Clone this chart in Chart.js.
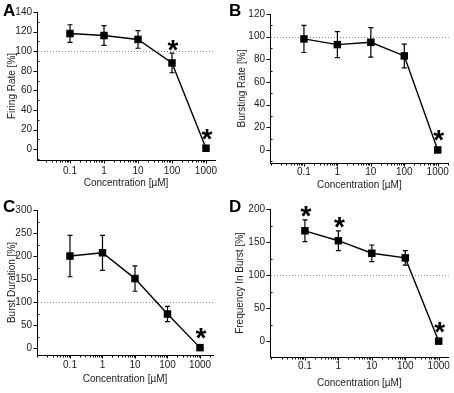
<!DOCTYPE html>
<html><head><meta charset="utf-8">
<script src="https://cdn.jsdelivr.net/npm/chart.js@4/dist/chart.umd.min.js"></script>
<style>
html,body{margin:0;padding:0;background:#fff}
body{width:454px;height:393px;overflow:hidden;position:relative;font-family:"Liberation Sans",Arial,sans-serif}
canvas{position:absolute}
.lbl{position:absolute;font:bold 17px "Liberation Sans",Arial,sans-serif;color:#000;line-height:17px}
</style></head><body>
<canvas id="cA" width="227" height="196" style="left:0;top:0"></canvas>
<canvas id="cB" width="227" height="196" style="left:227px;top:0"></canvas>
<canvas id="cC" width="227" height="197" style="left:0;top:196px"></canvas>
<canvas id="cD" width="227" height="197" style="left:227px;top:196px"></canvas>
<div class="lbl" style="left:3px;top:2px">A</div>
<div class="lbl" style="left:229px;top:2px">B</div>
<div class="lbl" style="left:3px;top:198px">C</div>
<div class="lbl" style="left:229px;top:198px">D</div>
<script>
// ---- data ----
const concentrations = [0.1, 1, 10, 100, 1000];
const xTickValues = [0.1, 1, 10, 100, 1000];
const xTickLabels = ['0.1', '1', '10', '100', '1000'];
const xTitle = 'Concentration [\u00B5M]';

const firingRate = [118, 116, 112, 88, 1];
const firingRateErr = [9, 10, 9, 10, 0];
const firingRateSig = [false, false, false, true, true];
const firingRateTicks = [0, 20, 40, 60, 80, 100, 120, 140];

const burstingRate = [98, 93, 95, 83, 0];
const burstingRateErr = [12, 11.5, 13, 10.5, 0];
const burstingRateSig = [false, false, false, false, true];
const burstingRateTicks = [0, 20, 40, 60, 80, 100, 120];

const burstDuration = [200, 207, 151, 74, 1];
const burstDurationErr = [45, 38, 27.5, 16.5, 0];
const burstDurationSig = [false, false, false, false, true];
const burstDurationTicks = [0, 50, 100, 150, 200, 250, 300];

const freqInBurst = [167, 152, 133, 126, 0];
const freqInBurstErr = [16.5, 15, 12.5, 11, 0];
const freqInBurstSig = [true, true, false, false, true];
const freqInBurstTicks = [0, 50, 100, 150, 200];

const controlLevel = 100;

// ---- drawing helpers ----
const FONT = '"Liberation Sans", Arial, sans-serif';

const decorPlugin = {
  id: 'decor',
  beforeDatasetsDraw(chart, args, o) {
    const {ctx, chartArea: a, scales: {x, y}} = chart;
    ctx.save();
    // dotted control line
    const yc = y.getPixelForValue(controlLevel);
    ctx.strokeStyle = '#8a8a8a';
    ctx.lineWidth = 1;
    ctx.setLineDash([1, 2]);
    ctx.beginPath(); ctx.moveTo(a.left + 1, Math.round(yc) + 0.5); ctx.lineTo(a.right, Math.round(yc) + 0.5); ctx.stroke();
    ctx.setLineDash([]);
    // error bars
    ctx.strokeStyle = '#000';
    ctx.lineWidth = 1.2;
    o.values.forEach((v, i) => {
      const e = o.errors[i];
      if (!e) return;
      const px = x.getPixelForValue(concentrations[i]);
      const yt = y.getPixelForValue(v + e), yb = y.getPixelForValue(v - e);
      ctx.beginPath();
      ctx.moveTo(px, yt); ctx.lineTo(px, yb);
      ctx.moveTo(px - 2.5, yt); ctx.lineTo(px + 2.5, yt);
      ctx.moveTo(px - 2.5, yb); ctx.lineTo(px + 2.5, yb);
      ctx.stroke();
    });
    ctx.restore();
  },
  afterDraw(chart, args, o) {
    const {ctx, chartArea: a, scales: {x, y}} = chart;
    ctx.save();
    ctx.strokeStyle = '#000';
    ctx.lineWidth = 1;
    // y ticks
    const yl = Math.round(a.left) + 0.5;
    o.yTicks.forEach(t => {
      const py = Math.round(y.getPixelForValue(t)) + 0.5;
      ctx.beginPath(); ctx.moveTo(yl - 4, py); ctx.lineTo(yl, py); ctx.stroke();
    });
    for (let t = o.yTicks[0] - o.yMinor; t <= y.max + 1e-9; t += o.yMinor) {
      if (t < y.min || o.yTicks.includes(t)) continue;
      const py = Math.round(y.getPixelForValue(t)) + 0.5;
      ctx.beginPath(); ctx.moveTo(yl, py); ctx.lineTo(yl + 2, py); ctx.stroke();
    }
    // x ticks (log)
    const xb = Math.round(a.bottom) + 0.5;
    for (let e = -3; e <= 4; e++) {
      for (let m = 1; m <= 9; m++) {
        const v = m * Math.pow(10, e);
        if (v < x.min || v > x.max) continue;
        const major = xTickValues.some(t => Math.abs(t - v) < 1e-9 * Math.max(1, v));
        const px = Math.round(x.getPixelForValue(v)) + 0.5;
        ctx.beginPath(); ctx.moveTo(px, xb); ctx.lineTo(px, xb + (major ? 3 : 2)); ctx.stroke();
      }
    }
    // asterisks
    ctx.fillStyle = '#000';
    ctx.font = 'bold 28px ' + FONT;
    ctx.textAlign = 'center';
    ctx.textBaseline = 'alphabetic';
    const m = ctx.measureText('*');
    const shift = (m.actualBoundingBoxAscent - m.actualBoundingBoxDescent) / 2;
    o.sig.forEach((s, i) => {
      if (!s) return;
      const v = o.values[i], e = o.errors[i];
      const px = x.getPixelForValue(concentrations[i]);
      const top = Math.min(y.getPixelForValue(v + e), y.getPixelForValue(v) - 6);
      const cy = top - 8;
      ctx.fillText('*', px + 1, cy + shift);
    });
    ctx.restore();
  }
};

function makePanel(id, values, errors, sig, yTicks, yMinor, yLabel, L) {
  const canvas = document.getElementById(id);
  const W = canvas.width, H = canvas.height;
  return new Chart(canvas, {
    type: 'line',
    data: {
      datasets: [{
        data: concentrations.map((c, i) => ({x: c, y: values[i]})),
        borderColor: '#000',
        backgroundColor: '#000',
        borderWidth: 1.4,
        pointStyle: 'rect',
        pointRadius: 5.3,
        pointBorderWidth: 0,
        pointBackgroundColor: '#000',
        tension: 0,
        clip: false
      }]
    },
    options: {
      responsive: false,
      animation: false,
      events: [],
      layout: {padding: {top: L.top, right: W - L.right, left: 0, bottom: 0}},
      plugins: {
        legend: {display: false},
        tooltip: {enabled: false},
        decor: {values, errors, sig, yTicks, yMinor}
      },
      scales: {
        x: {
          type: 'logarithmic',
          min: L.xmin, max: L.xmax,
          grid: {display: false, drawTicks: false},
          border: {display: true, color: '#000', width: 1},
          afterBuildTicks: s => { s.ticks = xTickValues.map(v => ({value: v})); },
          afterFit: s => { s.height = H - L.bottom; },
          ticks: {
            autoSkip: false, maxRotation: 0, padding: L.xLabPad, color: '#1a1a1a',
            font: {family: FONT, size: 10},
            callback: v => { const i = xTickValues.findIndex(t => Math.abs(t - v) < 1e-9 * Math.max(1, v)); return i >= 0 ? xTickLabels[i] : ''; }
          },
          title: {display: true, text: xTitle, color: '#1a1a1a', font: {family: FONT, size: 10}, padding: {top: 0, bottom: L.xTitlePad}}
        },
        y: {
          type: 'linear',
          min: L.ymin, max: L.ymax,
          grid: {display: false, drawTicks: false},
          border: {display: true, color: '#000', width: 1},
          afterBuildTicks: s => { s.ticks = yTicks.map(v => ({value: v})); },
          afterFit: s => { s.width = L.left; },
          ticks: {autoSkip: false, padding: 5, color: '#1a1a1a', font: {family: FONT, size: 10}, callback: v => String(v)},
          title: {display: true, text: yLabel, color: '#1a1a1a', font: {family: FONT, size: 10}, padding: {top: L.yTitlePad, bottom: 0}}
        }
      }
    },
    plugins: [decorPlugin]
  });
}

makePanel('cA', firingRate, firingRateErr, firingRateSig, firingRateTicks, 10, 'Firing Rate [%]',
  {left: 37, right: 215, top: 12, bottom: 160, xmin: 0.0107, xmax: 1840, ymin: -11, ymax: 140, xLabPad: 5, xTitlePad: 7, yTitlePad: 6});
makePanel('cB', burstingRate, burstingRateErr, burstingRateSig, burstingRateTicks, 10, 'Bursting Rate [%]',
  {left: 43, right: 222, top: 14, bottom: 163, xmin: 0.00966, xmax: 2128, ymin: -11.5, ymax: 120, xLabPad: 3, xTitlePad: 5, yTitlePad: 9});
makePanel('cC', burstDuration, burstDurationErr, burstDurationSig, burstDurationTicks, 25, 'Burst Duration [%]',
  {left: 37, right: 213, top: 14, bottom: 159, xmin: 0.00966, xmax: 2512, ymin: -15, ymax: 300, xLabPad: 4, xTitlePad: 8, yTitlePad: 6});
makePanel('cD', freqInBurst, freqInBurstErr, freqInBurstSig, freqInBurstTicks, 25, 'Frequency In Burst [%]',
  {left: 43, right: 222, top: 13, bottom: 161, xmin: 0.00902, xmax: 1990, ymin: -24, ymax: 200, xLabPad: 3, xTitlePad: 4, yTitlePad: 7});
</script>
</body></html>
